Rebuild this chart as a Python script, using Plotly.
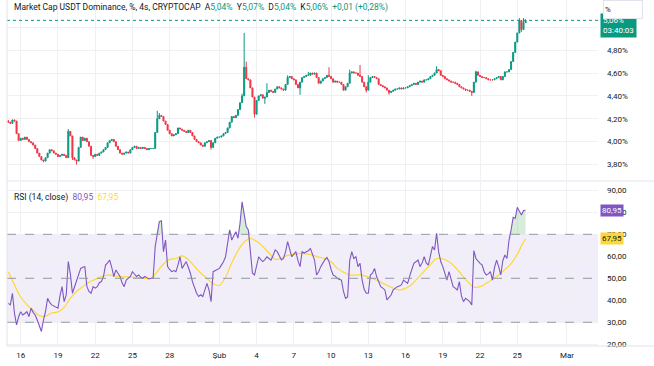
import datetime as dt
import plotly.graph_objects as go

# ---------------- data ----------------
start_time = dt.datetime(2025, 1, 15, 0, 0)   # first 4h candle
first_open = 4.18

closes = [
    4.17, 4.16, 4.19, 4.18, 4.07, 4.01, 4.03, 4.02, 4.04, 4.02,
    4.00, 3.99, 3.97, 3.94, 3.90, 3.87, 3.84, 3.83, 3.86, 3.90,
    3.93, 3.92, 3.90, 3.89, 3.87, 3.88, 3.89, 3.88, 3.86, 4.09,
    4.05, 3.86, 3.84, 3.83, 3.95, 4.04, 4.01, 4.03, 4.00, 3.96,
    3.88, 3.87, 3.89, 3.88, 3.90, 3.91, 3.93, 3.95, 3.99, 4.01,
    4.02, 4.00, 3.96, 3.93, 3.90, 3.89, 3.90, 3.91, 3.90, 3.93,
    3.95, 3.96, 3.94, 3.95, 3.94, 3.95, 3.94, 3.93, 3.94, 3.94,
    3.94, 4.08, 4.20, 4.23, 4.22, 4.18, 4.15, 4.10, 4.07, 4.05,
    4.06, 4.07, 4.12, 4.11, 4.10, 4.09, 4.08, 4.10, 4.08, 4.05,
    4.02, 4.00, 3.99, 3.97, 3.96, 3.99, 4.00, 4.01, 3.95, 3.99,
    4.03, 4.04, 4.04, 4.05, 4.07, 4.08, 4.12, 4.17, 4.22, 4.21,
    4.23, 4.28, 4.34, 4.40, 4.65, 4.55, 4.54, 4.47, 4.39, 4.24,
    4.36, 4.40, 4.41, 4.38, 4.39, 4.43, 4.45, 4.44, 4.43, 4.46,
    4.48, 4.47, 4.46, 4.45, 4.50, 4.56, 4.57, 4.55, 4.54, 4.50,
    4.47, 4.52, 4.56, 4.57, 4.58, 4.58, 4.60, 4.59, 4.60, 4.56,
    4.51, 4.53, 4.55, 4.56, 4.58, 4.57, 4.55, 4.52, 4.53, 4.52,
    4.52, 4.50, 4.45, 4.48, 4.51, 4.60, 4.61, 4.60, 4.60, 4.58,
    4.57, 4.52, 4.48, 4.45, 4.52, 4.56, 4.57, 4.56, 4.55, 4.50,
    4.49, 4.48, 4.47, 4.45, 4.43, 4.44, 4.45, 4.46, 4.46, 4.47,
    4.46, 4.47, 4.47, 4.48, 4.49, 4.50, 4.51, 4.50, 4.52, 4.53,
    4.52, 4.54, 4.54, 4.55, 4.57, 4.58, 4.60, 4.63, 4.62, 4.58,
    4.57, 4.55, 4.54, 4.53, 4.52, 4.52, 4.51, 4.50, 4.48, 4.47,
    4.46, 4.45, 4.45, 4.44, 4.43, 4.52, 4.61, 4.58, 4.57, 4.56,
    4.56, 4.55, 4.54, 4.54, 4.54, 4.55, 4.56, 4.57, 4.54, 4.57,
    4.61, 4.61, 4.63, 4.70, 4.78, 4.87, 4.95, 5.06, 4.98, 5.04,
    5.06,
]

# visible wicks (candle index -> extreme price)
wick_highs = {0: 4.19, 29: 4.11, 30: 4.08, 72: 4.27, 73: 4.25, 113: 4.42,
              114: 4.95, 115: 4.70, 125: 4.51, 135: 4.58, 145: 4.61,
              155: 4.65, 165: 4.63, 170: 4.67, 174: 4.58, 207: 4.66,
              226: 4.62, 247: 5.08, 249: 5.08, 250: 5.07}
wick_lows = {17: 3.82, 31: 3.84, 33: 3.80, 41: 3.85, 98: 3.93, 119: 4.21,
             124: 4.33, 141: 4.41, 173: 4.43, 184: 4.41, 224: 4.40,
             248: 4.96}

rsi = [
    38.6, 37.9, 43.2, 34.0, 28.8, 32.5, 34.8, 33.3, 34.0, 34.8,
    32.6, 36.4, 34.5, 33.3, 31.0, 28.5, 25.8, 31.0, 35.0, 40.9,
    39.0, 37.9, 37.4, 37.0, 36.4, 42.0, 46.2, 39.4, 42.4, 57.6,
    52.0, 43.2, 46.0, 49.2, 52.0, 54.5, 55.0, 55.3, 46.2, 44.0,
    43.2, 46.2, 45.5, 46.2, 48.0, 48.5, 50.8, 56.0, 57.0, 58.3,
    55.0, 50.8, 53.8, 52.0, 50.8, 48.0, 46.2, 49.2, 50.0, 50.8,
    53.0, 52.0, 50.8, 51.5, 50.5, 50.0, 50.8, 50.3, 49.7, 50.0,
    50.0, 64.4, 71.2, 75.8, 76.2, 62.1, 67.4, 55.3, 54.0, 53.0,
    53.5, 53.0, 56.0, 59.8, 54.5, 56.0, 57.6, 55.0, 52.3, 48.5,
    46.0, 43.2, 41.7, 42.5, 41.7, 45.0, 47.7, 44.7, 39.4, 53.0,
    53.5, 54.0, 54.5, 56.0, 57.5, 59.8, 65.0, 72.0, 67.4, 69.5,
    71.2, 68.2, 75.0, 84.8, 78.0, 73.5, 72.0, 62.1, 52.3, 51.5,
    55.0, 59.8, 58.5, 57.6, 58.5, 59.8, 59.0, 58.3, 60.5, 62.9,
    62.1, 60.0, 58.3, 59.0, 62.0, 66.7, 63.0, 59.8, 61.0, 62.1,
    58.0, 55.3, 62.1, 61.5, 62.1, 62.5, 63.6, 61.0, 58.3, 51.5,
    53.0, 55.3, 57.0, 58.5, 59.5, 57.6, 54.0, 51.5, 51.0, 50.0,
    49.5, 49.2, 44.0, 40.9, 41.5, 58.0, 62.1, 59.0, 59.8, 55.3,
    56.8, 49.2, 45.0, 43.2, 43.2, 51.5, 52.3, 54.5, 50.8, 48.0,
    46.2, 45.5, 44.7, 40.2, 41.5, 42.4, 44.7, 45.5, 46.2, 46.5,
    47.0, 49.2, 48.5, 47.7, 51.0, 53.8, 56.8, 57.5, 58.3, 55.3,
    57.0, 59.8, 57.0, 56.0, 60.5, 64.4, 62.9, 70.5, 62.0, 57.6,
    55.3, 52.0, 49.2, 53.0, 49.0, 46.2, 45.5, 44.7, 48.5, 42.0,
    39.4, 40.9, 40.2, 39.4, 37.9, 62.6, 59.0, 57.6, 56.8, 56.0,
    53.0, 51.5, 52.0, 53.0, 49.2, 55.0, 58.3, 55.3, 51.5, 58.0,
    60.6, 59.0, 67.4, 72.0, 77.7, 77.3, 82.3, 80.5, 78.8, 80.8,
    80.95,
]

# RSI-based moving average, read every 3rd candle (plus the last one)
rsi_ma_index = list(range(0, 250, 3)) + [250]
rsi_ma = [
    53.0, 47.0, 41.5, 38.0, 35.5, 33.0, 32.8, 34.2, 34.7, 36.8,
    41.0, 44.0, 46.2, 48.2, 49.5, 50.8, 51.5, 51.2, 50.8, 50.6,
    50.5, 50.3, 50.0, 50.0, 53.0, 56.5, 58.6, 59.0, 60.2, 58.5,
    55.5, 52.4, 50.0, 47.5, 46.8, 50.5, 57.0, 62.5, 66.5, 68.1,
    66.8, 64.5, 61.5, 58.6, 59.2, 60.4, 60.9, 61.3, 61.1, 60.6,
    59.6, 59.0, 57.5, 54.5, 52.8, 51.5, 51.5, 51.5, 50.5, 49.5,
    48.3, 46.8, 45.6, 44.7, 45.4, 47.2, 50.2, 53.2, 56.2, 59.0,
    58.8, 57.5, 55.0, 51.8, 48.5, 46.0, 46.2, 47.7, 49.6, 51.5,
    54.0, 56.7, 61.0, 66.5, 67.95,
]

price_ticks = [3.8, 4.0, 4.2, 4.4, 4.6, 4.8, 5.0]
price_tick_text = ["3,80%", "4,00%", "4,20%", "4,40%", "4,60%", "4,80%", "5,00%"]
rsi_ticks = [20, 30, 40, 50, 60, 70, 80, 90]
rsi_tick_text = ["20,00", "30,00", "40,00", "50,00", "60,00", "70,00", "80,00", "90,00"]
date_ticks = ["2025-01-16", "2025-01-19", "2025-01-22", "2025-01-25", "2025-01-28",
              "2025-02-01", "2025-02-04", "2025-02-07", "2025-02-10", "2025-02-13",
              "2025-02-16", "2025-02-19", "2025-02-22", "2025-02-25", "2025-03-01"]
date_tick_text = ["16", "19", "22", "25", "28", "Şub", "4", "7", "10", "13",
                  "16", "19", "22", "25", "Mar"]

last_price = 5.06
last_rsi = 80.95
last_rsi_ma = 67.95

# ---------------- derived candle fields ----------------
opens = [first_open] + closes[:-1]
highs = [wick_highs.get(i, max(o, c)) for i, (o, c) in enumerate(zip(opens, closes))]
lows = [wick_lows.get(i, min(o, c)) for i, (o, c) in enumerate(zip(opens, closes))]
dates = [start_time + dt.timedelta(hours=4 * i) for i in range(len(closes))]
rsi_dates = [start_time + dt.timedelta(hours=4 * i) for i in range(len(rsi))]
ma_dates = [start_time + dt.timedelta(hours=4 * i) for i in rsi_ma_index]

UP = "#089981"
DN = "#f23645"
PURPLE = "#7e57c2"
YELLOW = "#fdd835"
GRID = "#eef0f4"
TXT = "#131722"
FONT = "Roboto"
FS = 8.5
TFS = 8

fig = go.Figure()

fig.add_trace(go.Candlestick(
    x=dates, open=opens, high=highs, low=lows, close=closes,
    xaxis="x", yaxis="y", whiskerwidth=0,
    increasing=dict(line=dict(color=UP, width=1), fillcolor=UP),
    decreasing=dict(line=dict(color=DN, width=1), fillcolor=DN),
    showlegend=False, hoverinfo="skip"))

# overbought / oversold fills of the RSI
fig.add_trace(go.Scatter(x=rsi_dates, y=[70] * len(rsi), yaxis="y2", mode="lines",
                         line=dict(width=0), showlegend=False, hoverinfo="skip"))
fig.add_trace(go.Scatter(x=rsi_dates, y=[max(v, 70) for v in rsi], yaxis="y2", mode="lines",
                         line=dict(width=0), fill="tonexty",
                         fillcolor="rgba(76,175,80,0.22)", showlegend=False, hoverinfo="skip"))
fig.add_trace(go.Scatter(x=rsi_dates, y=[30] * len(rsi), yaxis="y2", mode="lines",
                         line=dict(width=0), showlegend=False, hoverinfo="skip"))
fig.add_trace(go.Scatter(x=rsi_dates, y=[min(v, 30) for v in rsi], yaxis="y2", mode="lines",
                         line=dict(width=0), fill="tonexty",
                         fillcolor="rgba(242,54,69,0.10)", showlegend=False, hoverinfo="skip"))

fig.add_trace(go.Scatter(x=ma_dates, y=rsi_ma, yaxis="y2", mode="lines",
                         line=dict(color=YELLOW, width=1.2, shape="spline"),
                         showlegend=False, hoverinfo="skip"))
fig.add_trace(go.Scatter(x=rsi_dates, y=rsi, yaxis="y2", mode="lines",
                         line=dict(color=PURPLE, width=1.1),
                         showlegend=False, hoverinfo="skip"))

W, H = 654, 366
ML, MR, MT, MB = 7, 56, 0, 20
PH = H - MT - MB          # 346
PW = W - ML - MR          # 591
price_dom = [1 - 180 / PH, 1]
rsi_dom = [0, 164 / PH]

shapes = [
    # RSI background band and reference lines
    dict(type="rect", xref="paper", yref="y2", x0=0, x1=1, y0=30, y1=70,
         fillcolor="rgba(126,87,194,0.10)", line=dict(width=0), layer="below"),
    dict(type="line", xref="paper", yref="y2", x0=0, x1=1, y0=70, y1=70,
         line=dict(color="#9598a1", width=1, dash="dash")),
    dict(type="line", xref="paper", yref="y2", x0=0, x1=1, y0=50, y1=50,
         line=dict(color="#9598a1", width=1, dash="dash")),
    dict(type="line", xref="paper", yref="y2", x0=0, x1=1, y0=30, y1=30,
         line=dict(color="#9598a1", width=1, dash="dash")),
    # current price line
    dict(type="line", xref="paper", yref="y", x0=0, x1=1, y0=last_price, y1=last_price,
         line=dict(color=UP, width=1, dash="dot")),
    # pane separators / borders
    dict(type="line", xref="paper", yref="paper", x0=0, x1=1 + MR / PW,
         y0=1 - 181 / PH, y1=1 - 181 / PH, line=dict(color="#e0e3eb", width=1)),
    dict(type="line", xref="paper", yref="paper", x0=0, x1=1 + MR / PW,
         y0=0, y1=0, line=dict(color="#e0e3eb", width=1)),
    dict(type="line", xref="paper", yref="paper", x0=0, x1=0,
         y0=0, y1=1, line=dict(color="#e0e3eb", width=1)),
]

hdr_font = dict(family=FONT, size=FS, color=TXT)
g = lambda s: f"<span style='color:{UP}'>{s}</span>"
header = ("Market Cap USDT Dominance, %, 4s, CRYPTOCAP  "
          f"A{g('5,04%')}  Y{g('5,07%')}  D{g('5,04%')}  K{g('5,06%')}  {g('+0,01 (+0,28%)')}")
rsi_header = (f"RSI (14, close)  <span style='color:{PURPLE}'>80,95</span>  "
              f"<span style='color:{YELLOW}'>67,95</span>")

annotations = [
    dict(xref="paper", yref="paper", x=0, y=1, xanchor="left", yanchor="top",
         xshift=5, yshift=0, text=header, showarrow=False, font=hdr_font),
    dict(xref="paper", yref="y2 domain", x=0, y=1, xanchor="left", yanchor="top",
         xshift=5, yshift=-8, text=rsi_header, showarrow=False, font=hdr_font),
    # price label
    dict(xref="paper", yref="y", x=1, y=last_price, xanchor="left", yanchor="top",
         xshift=2, yshift=7, text="5,06%<br>03:40:03", showarrow=False, align="left",
         bgcolor=UP, borderpad=2, font=dict(family=FONT, size=TFS, color="white")),
    # unit box on top of the price scale
    dict(xref="paper", yref="paper", x=1, y=1, xanchor="left", yanchor="top",
         xshift=5, yshift=0, text="%", showarrow=False, align="left", width=36, height=15,
         bgcolor="white", bordercolor="#e0e3eb", borderwidth=1,
         font=dict(family=FONT, size=TFS, color=TXT)),
    # RSI value labels
    dict(xref="paper", yref="y2", x=1, y=last_rsi, xanchor="left", yanchor="middle",
         xshift=2, text="80,95", showarrow=False, bgcolor=PURPLE, borderpad=1,
         font=dict(family=FONT, size=TFS, color="white")),
    dict(xref="paper", yref="y2", x=1, y=last_rsi_ma, xanchor="left", yanchor="middle",
         xshift=2, text="67,95", showarrow=False, bgcolor=YELLOW, borderpad=1,
         font=dict(family=FONT, size=TFS, color=TXT)),
]

tickfont = dict(family=FONT, size=TFS, color=TXT)
fig.update_layout(
    width=W, height=H, margin=dict(l=ML, r=MR, t=MT, b=MB),
    paper_bgcolor="white", plot_bgcolor="white",
    showlegend=False, shapes=shapes, annotations=annotations,
    xaxis=dict(domain=[0, 1], anchor="y2", type="date",
               range=[dt.datetime(2025, 1, 14, 21, 31), dt.datetime(2025, 3, 3, 12, 0)],
               tickmode="array", tickvals=date_ticks, ticktext=date_tick_text,
               showgrid=True, gridcolor=GRID, gridwidth=1, zeroline=False,
               showline=False, ticks="", tickfont=tickfont, ticklabelstandoff=3,
               rangeslider=dict(visible=False), fixedrange=True),
    yaxis=dict(domain=price_dom, anchor="x", side="right",
               range=[3.665, 5.238], tickmode="array", tickvals=price_ticks,
               ticktext=price_tick_text, showgrid=True, gridcolor=GRID,
               zeroline=False, showline=False, ticks="", tickfont=tickfont,
               ticklabelstandoff=8),
    yaxis2=dict(domain=rsi_dom, anchor="x", side="right",
                range=[19.2, 93.8], tickmode="array", tickvals=rsi_ticks,
                ticktext=rsi_tick_text, showgrid=True, gridcolor=GRID,
                zeroline=False, showline=False, ticks="", tickfont=tickfont,
                ticklabelstandoff=8),
)

fig.write_html("out.html", config={"displayModeBar": False},
               post_script="document.body.style.margin='0';")
